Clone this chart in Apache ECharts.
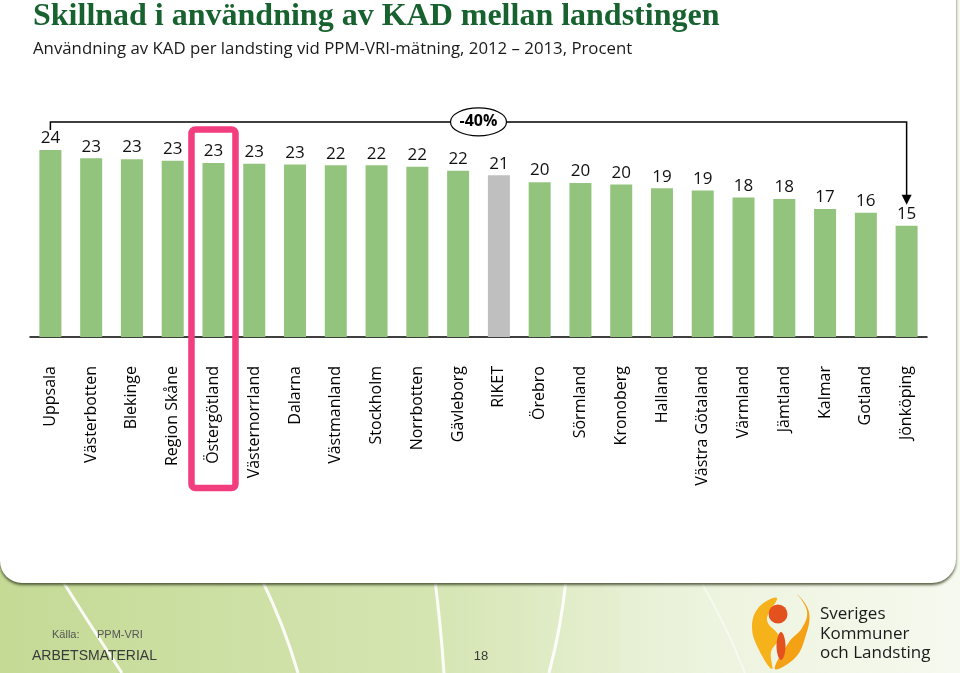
<!DOCTYPE html>
<html><head><meta charset="utf-8">
<script src="https://cdn.jsdelivr.net/npm/echarts@6/dist/echarts.min.js"></script>
<style>html,body{margin:0;padding:0;background:#fff}#c{width:960px;height:673px}</style>
</head><body><div id="c"></div>
<script>
const categories = ['Uppsala','Västerbotten','Blekinge','Region Skåne','Östergötland','Västernorrland','Dalarna','Västmanland','Stockholm','Norrbotten','Gävleborg','RIKET','Örebro','Sörmland','Kronoberg','Halland','Västra Götaland','Värmland','Jämtland','Kalmar','Gotland','Jönköping'];
const values = [24.4,23.3,23.2,23.0,22.7,22.6,22.5,22.4,22.4,22.2,21.7,21.1,20.2,20.1,19.9,19.4,19.1,18.2,18.0,16.7,16.2,14.5];
const highlighted = 'Östergötland';
const national = 'RIKET';
const changeLabel = '-40%';
const titleText = 'Skillnad i användning av KAD mellan landstingen';
const subtitleText = 'Användning av KAD per landsting vid PPM-VRI-mätning, 2012 – 2013, Procent';
const sourceLabel = 'Källa:';
const sourceName = 'PPM-VRI';
const footerLeft = 'ARBETSMATERIAL';
const pageNumber = '18';
const logoLines = ['Sveriges', 'Kommuner', 'och Landsting'];

const chart = echarts.init(document.getElementById('c'));
const option = {
  animation: false,
  backgroundColor: 'transparent',
  title: [
    {text: titleText, left: 28, top: -4, textStyle: {fontFamily: 'Liberation Serif', fontWeight: 'bold', fontSize: 32, color: '#17622f'}},
    {text: subtitleText, left: 28, top: 36, textStyle: {fontFamily: 'Open Sans', fontWeight: 'normal', fontSize: 16.8, color: '#1a1a1a'}}
  ],
  grid: {left: 30, right: 33, top: 107, bottom: 336},
  xAxis: {
    type: 'category', data: categories,
    axisLine: {lineStyle: {color: '#000', width: 1.5}},
    axisTick: {show: false},
    axisLabel: {rotate: 90, margin: 29, interval: 0, fontFamily: 'Open Sans', fontSize: 16, color: '#000'}
  },
  yAxis: {type: 'value', min: 0, max: 30, show: false, splitLine: {show: false}},
  series: [{
    type: 'bar', barWidth: 22, z: 3,
    data: values.map((v, i) => ({value: v, itemStyle: {color: categories[i] === national ? '#bfbfbf' : '#93c47d'}})),
    label: {show: true, position: 'top', distance: 3, fontFamily: 'Open Sans', fontSize: 17, color: '#111',
      formatter: p => String(Math.round(p.value))}
  }]
};
chart.setOption(option);

const px = (i, v) => chart.convertToPixel({seriesIndex: 0}, [i, v]);
const n = values.length;
const first = px(0, values[0]);
const last = px(n - 1, values[n - 1]);
const hi = categories.indexOf(highlighted);
const hiBase = px(hi, 0);
const yBr = first[1] - 28;
const tipY = last[1] - 21;
const midX = (first[0] + last[0]) / 2;

const curve = (x1, y1, cx, cy, x2, y2, w, op) => ({type: 'bezierCurve', z: -19,
  shape: {x1: x1, y1: y1, cpx1: cx, cpy1: cy, x2: x2, y2: y2}, style: {stroke: '#ffffff', lineWidth: w, fill: null, opacity: op}});

const graphics = [
  {type: 'rect', z: -20, shape: {x: 0, y: 0, width: 960, height: 673},
   style: {fill: new echarts.graphic.LinearGradient(0, 0, 1, 0, [
     {offset: 0, color: '#c4da95'}, {offset: 0.45, color: '#d5e5b2'}, {offset: 0.72, color: '#ecf3dd'}, {offset: 1, color: '#f6f9ef'}])}},
  curve(62, 580, 88, 622, 122, 673, 3, 0.9),
  curve(262, 580, 284, 625, 298, 673, 3, 0.9),
  curve(435, 580, 441, 628, 444, 673, 3, 0.9),
  curve(566, 580, 561, 628, 549, 673, 3, 0.9),
  curve(700, 580, 725, 622, 745, 673, 2, 0.5),
  {type: 'rect', z: -18, shape: {x: 0, y: -20, width: 956, height: 603, r: [0, 0, 24, 22]},
   style: {fill: '#ffffff', shadowColor: 'rgba(55,65,35,0.85)', shadowBlur: 3, shadowOffsetY: 2}},
  {type: 'polyline', z: 10, shape: {points: [[first[0], yBr + 8], [first[0], yBr], [last[0], yBr], [last[0], tipY - 8]]},
   style: {stroke: '#000', lineWidth: 1.5, fill: null}},
  {type: 'polygon', z: 10, shape: {points: [[last[0] - 5, tipY - 10], [last[0] + 5, tipY - 10], [last[0], tipY]]}, style: {fill: '#000'}},
  {type: 'ellipse', z: 11, shape: {cx: midX, cy: yBr, rx: 28, ry: 14}, style: {fill: '#fff', stroke: '#000', lineWidth: 1.2}},
  {type: 'text', z: 12, x: midX, y: yBr, style: {text: changeLabel, fontFamily: 'Open Sans', fontWeight: 'bold', fontSize: 16, fill: '#000', align: 'center', verticalAlign: 'middle'}},
  {type: 'rect', z: 12, shape: {x: hiBase[0] - 22, y: yBr + 7.5, width: 44, height: hiBase[1] + 151 - (yBr + 7.5), r: 4},
   style: {fill: null, stroke: '#f23d7e', lineWidth: 6.5}},
  {type: 'text', z: 5, x: 52, y: 635, style: {text: sourceLabel, fontFamily: 'Liberation Sans', fontSize: 11, fill: '#555', verticalAlign: 'middle'}},
  {type: 'text', z: 5, x: 97, y: 635, style: {text: sourceName, fontFamily: 'Liberation Sans', fontSize: 11, fill: '#555', verticalAlign: 'middle'}},
  {type: 'text', z: 5, x: 32, y: 656, style: {text: footerLeft, fontFamily: 'Liberation Sans', fontSize: 14, fill: '#3a3a3a', verticalAlign: 'middle'}},
  {type: 'text', z: 5, x: 481, y: 656, style: {text: pageNumber, fontFamily: 'Liberation Sans', fontSize: 13, fill: '#3a3a3a', align: 'center', verticalAlign: 'middle'}},
  {type: 'polygon', z: 5, shape: {smooth: 0.4, points: [[777,598],[759,607],[752,627],[759,650],[772,669],[771,652],[779,637],[767,620]]}, style: {fill: '#f6b21b'}},
  {type: 'polygon', z: 5, shape: {smooth: 0.4, points: [[797,594],[807,611],[802,628],[789,642],[775,669],[795,658],[805,638],[809,612]]}, style: {fill: '#f4a116'}},
  {type: 'circle', z: 6, shape: {cx: 778, cy: 614, r: 9.5}, style: {fill: '#e3511f'}},
  {type: 'polygon', z: 6, shape: {smooth: 0.5, points: [[781,632],[785.5,646],[781,660],[776.5,646]]}, style: {fill: '#e3511f'}},
  {type: 'text', z: 5, x: 820, y: 614, style: {text: logoLines[0], fontFamily: 'Open Sans', fontSize: 17, fill: '#1a1a1a', verticalAlign: 'middle'}},
  {type: 'text', z: 5, x: 820, y: 634, style: {text: logoLines[1], fontFamily: 'Open Sans', fontSize: 17, fill: '#1a1a1a', verticalAlign: 'middle'}},
  {type: 'text', z: 5, x: 820, y: 653, style: {text: logoLines[2], fontFamily: 'Open Sans', fontSize: 17, fill: '#1a1a1a', verticalAlign: 'middle'}}
];
chart.setOption({graphic: graphics});
</script></body></html>
